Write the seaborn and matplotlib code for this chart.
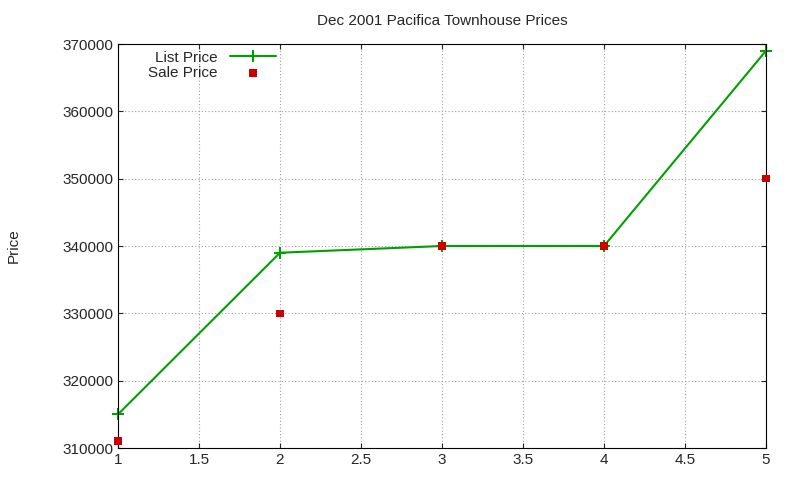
import matplotlib
matplotlib.use("Agg")
import matplotlib.pyplot as plt
import seaborn as sns
import pandas as pd

x_vals = [1, 2, 3, 4, 5]
list_price = [315000, 339000, 340000, 340000, 369000]
sale_price = [311000, 330000, 340000, 340000, 350000]

sns.set_style("ticks")
plt.rcParams['font.family'] = ['Liberation Sans', 'DejaVu Sans']

df = pd.DataFrame({"x": x_vals, "list": list_price, "sale": sale_price})

fig = plt.figure(figsize=(8, 4.8), dpi=100)
ax = fig.add_axes([118 / 800, 32 / 480, 648 / 800, 404 / 480])

sns.lineplot(data=df, x="x", y="list", ax=ax, color="#00a000", lw=1.5,
             marker="+", markersize=8, markeredgewidth=1.5,
             markeredgecolor="#00a000", label="List Price", clip_on=False)
sns.scatterplot(data=df, x="x", y="sale", ax=ax, color="#cc0000", marker="s",
                s=30, edgecolor="none", label="Sale Price", zorder=3, clip_on=False)

ax.set_xlim(1, 5)
ax.set_ylim(310000, 370000)
ax.set_xticks([1, 1.5, 2, 2.5, 3, 3.5, 4, 4.5, 5])
ax.set_xticklabels(["1", "1.5", "2", "2.5", "3", "3.5", "4", "4.5", "5"])
ax.set_yticks(range(310000, 370001, 10000))
ax.grid(True, color="#a0a0a0", linestyle=(0, (1, 2)), lw=0.8)
ax.tick_params(direction="in", labelsize=11, top=True, right=True)
for s in ax.spines.values():
    s.set_visible(True)
    s.set_color("black")
ax.set_xlabel("")
ax.set_ylabel("Price", fontsize=11, labelpad=30)
ax.set_title("Dec 2001 Pacifica Townhouse Prices", fontsize=11, pad=14)

leg = ax.legend(loc="upper left", bbox_to_anchor=(0.03, 1.01), frameon=False,
                markerfirst=False, fontsize=11, handlelength=3,
                borderaxespad=0.3, labelspacing=0.1)

fig.savefig("out.png", dpi=100)
